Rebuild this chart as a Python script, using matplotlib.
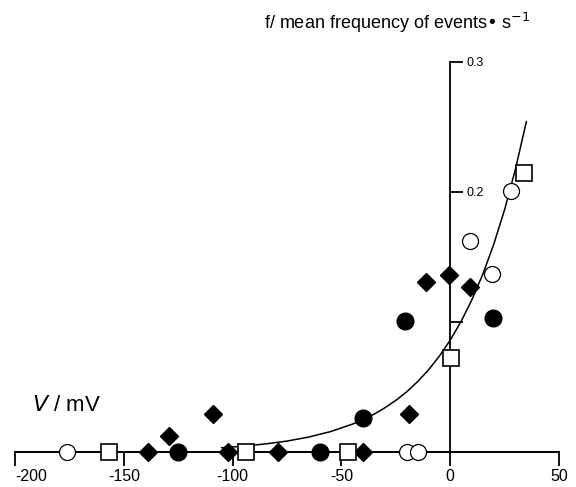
import numpy as np
import matplotlib
matplotlib.use("Agg")
import matplotlib.pyplot as plt

plt.rcParams["font.family"] = ["Liberation Sans", "DejaVu Sans"]

# data (V in mV, f in events/s)
open_circ_x = [-176, -20, -15, 9, 19, 28]
open_circ_y = [0.0, 0.0, 0.0, 0.162, 0.137, 0.201]

open_sq_x = [-157, -94, -47, 0.5, 34]
open_sq_y = [0.0, 0.0, 0.0, 0.072, 0.215]

fill_circ_x = [-125, -60, -40, -21, 19.5]
fill_circ_y = [0.0, 0.0, 0.026, 0.101, 0.103]

fill_dia_x = [-139, -129, -109, -102, -79, -40, -19, -11, -0.5, 9]
fill_dia_y = [0.0, 0.012, 0.029, 0.0, 0.0, 0.0, 0.029, 0.131, 0.136, 0.127]

# fitted curve
curve_x = [-105, -95, -85, -75, -65, -55, -45, -40, -35, -30, -25, -20, -15, -10, -5,
           0, 5, 10, 15, 20, 25, 30, 35]
curve_y = [0.0033, 0.0045, 0.0062, 0.0084, 0.0115, 0.0157, 0.0214, 0.0249, 0.0291,
           0.0340, 0.0397, 0.0463, 0.0541, 0.0631, 0.0737, 0.0860, 0.1004, 0.1172,
           0.1368, 0.1597, 0.1864, 0.2177, 0.2541]

xtick_vals = [-200, -150, -100, -50, 0, 50]
xtick_labels = ["-200", "-150", "-100", "-50", "0", "50"]
ytick_vals = [0.1, 0.2, 0.3]
ytick_labels = ["", "0.2", "0.3"]

fig = plt.figure(figsize=(5.76, 4.87), dpi=100)
ax = fig.add_axes([15/576, 1-452/487, 544/576, 390/487])

ax.set_xlim(-200, 50)
ax.set_ylim(0, 0.3)

ax.plot(curve_x, curve_y, color="black", lw=1.1, zorder=2, clip_on=False)
ax.plot([-200, 50], [0, 0], color="black", lw=1.2, zorder=1, clip_on=False)

ax.plot(open_circ_x, open_circ_y, "o", ms=11.5, mfc="white", mec="black", mew=0.9,
        ls="none", zorder=3, clip_on=False)
ax.plot(fill_circ_x, fill_circ_y, "o", ms=12, mfc="black", mec="black",
        ls="none", zorder=3, clip_on=False)
ax.plot(fill_dia_x, fill_dia_y, "D", ms=9, mfc="black", mec="black",
        ls="none", zorder=3, clip_on=False)
ax.plot(open_sq_x, open_sq_y, "s", ms=11.5, mfc="white", mec="black", mew=1.2,
        ls="none", zorder=4, clip_on=False)

for s in ["top", "left"]:
    ax.spines[s].set_visible(False)
ax.spines["right"].set_position(("data", 0))
ax.spines["bottom"].set_position(("data", 0))
ax.spines["right"].set_linewidth(1.3)
ax.spines["bottom"].set_linewidth(1.3)

ax.yaxis.tick_right()
ax.set_yticks(ytick_vals)
ax.set_yticklabels(ytick_labels)
ax.tick_params(axis="y", direction="out", length=9, width=1.3, labelsize=9, pad=3)

ax.set_xticks(xtick_vals)
ax.set_xticklabels(xtick_labels)
ax.tick_params(axis="x", direction="out", length=10, width=1.3, labelsize=11.5, pad=2)
first = ax.get_xticklabels()[0]
first.set_ha("left")
first.set_x(-203)

fig.text(0.69, 0.953, "f/ mean frequency of events\u2022 s$^{-1}$", ha="center",
         va="center", fontsize=13)
fig.text(0.056, 0.168, "$V$ / mV", ha="left", va="center", fontsize=16)

fig.savefig("out.png", dpi=100)
